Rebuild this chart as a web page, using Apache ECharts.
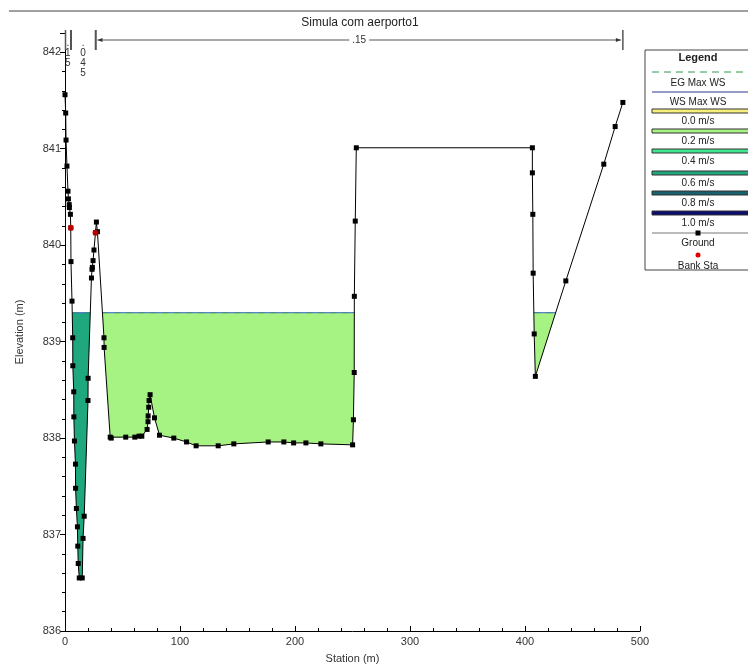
<!DOCTYPE html>
<html>
<head>
<meta charset="utf-8">
<script src="https://cdn.jsdelivr.net/npm/echarts@6/dist/echarts.min.js"></script>
<style>html,body{margin:0;padding:0;background:#fff}#c{width:748px;height:669px}</style>
</head>
<body>
<div id="c"></div>
<script>
// ---- Data ----
const chartTitle = 'Simula com aerporto1';
const xAxisName = 'Station (m)';
const yAxisName = 'Elevation (m)';
const xMin = 0, xMax = 500, xStep = 100;
const yMin = 836, yMax = 842.2, yStep = 1;

// Ground profile (station m, elevation m)
const groundStation = [0, 0.6, 0.9, 1.7, 2.6, 3.0, 3.7, 3.8, 4.7, 5.0, 5.2, 6.1, 6.7, 6.8, 7.6, 7.7, 8.2, 9.1, 9.2, 9.9, 10.8, 11.1, 11.5, 12.4, 15.0, 15.7, 16.7, 20.0, 20.1, 23.0, 23.5, 23.8, 24.4, 25.2, 26.5, 27.3, 28.2, 33.9, 34.0, 39.3, 40.2, 52.8, 60.7, 64.4, 66.8, 71.4, 72.2, 72.3, 72.8, 73.1, 74.0, 77.8, 82.2, 94.6, 105.7, 114.0, 133.2, 146.8, 176.7, 190.3, 198.8, 209.5, 222.5, 250.1, 250.8, 251.5, 251.6, 252.4, 253.3, 406.4, 406.4, 406.8, 407.1, 408.0, 409.0, 435.5, 468.5, 478.4, 485.1];
const groundElevation = [841.56, 841.37, 841.09, 840.82, 840.56, 840.48, 840.42, 840.39, 840.32, 840.18, 839.83, 839.42, 839.04, 838.75, 838.48, 838.22, 837.97, 837.73, 837.48, 837.27, 837.08, 836.88, 836.70, 836.55, 836.55, 836.96, 837.19, 838.39, 838.62, 839.66, 839.75, 839.77, 839.84, 839.95, 840.13, 840.24, 840.14, 839.04, 838.94, 838.01, 838.00, 838.01, 838.01, 838.02, 838.02, 838.09, 838.17, 838.23, 838.32, 838.39, 838.45, 838.21, 838.03, 838.00, 837.96, 837.92, 837.92, 837.94, 837.96, 837.96, 837.95, 837.95, 837.94, 837.93, 838.19, 838.68, 839.47, 840.25, 841.01, 841.01, 840.75, 840.32, 839.71, 839.08, 838.64, 839.63, 840.84, 841.23, 841.48];

const bankStation = [5.0, 26.5];
const bankElevation = [840.18, 840.13];

const wsElevation = 839.30;   // WS Max WS
const egElevation = 839.30;   // EG Max WS

// Manning's n regions
const nBreakStation = [0, 5.0, 26.5, 485.1];
const nValueLabel = ['.15', '.045', '.15'];

// Velocity legend
const velocityLabel = ['0.0 m/s', '0.2 m/s', '0.4 m/s', '0.6 m/s', '0.8 m/s', '1.0 m/s'];
const velocityColor = ['#f6ef7c', '#a6f283', '#3fe68f', '#1fa77d', '#17616d', '#0b0b72'];
const channelVelocityIndex = 3;   // 0.6 m/s band in main channel
const overbankVelocityIndex = 1;  // 0.2 m/s band in overbanks

// ---- Derived: wetted regions below WS ----
function wetRuns() {
  const runs = [];
  let cur = null;
  const n = groundStation.length;
  for (let i = 0; i < n; i++) {
    const s = groundStation[i], e = groundElevation[i];
    if (e < wsElevation) {
      if (!cur) {
        cur = [];
        if (i > 0) {
          const s0 = groundStation[i - 1], e0 = groundElevation[i - 1];
          cur.push([s0 + (wsElevation - e0) / (e - e0) * (s - s0), wsElevation]);
        }
      }
      cur.push([s, e]);
    } else if (cur) {
      const s0 = groundStation[i - 1], e0 = groundElevation[i - 1];
      cur.push([s0 + (wsElevation - e0) / (e - e0) * (s - s0), wsElevation]);
      runs.push(cur);
      cur = null;
    }
  }
  if (cur) runs.push(cur);
  return runs;
}
const runs = wetRuns();

const FONT = '"Liberation Sans", Arial, sans-serif';

const chart = echarts.init(document.getElementById('c'), null, {renderer: 'canvas'});

const legendItems = [];
(function buildLegend() {
  const L = 645, T = 50, W = 120, H = 220, cx = 698, lx0 = 652, lx1 = 760;
  legendItems.push({type: 'rect', shape: {x: L, y: T, width: W, height: H}, style: {fill: '#fff', stroke: '#444', lineWidth: 1}, z: 10});
  legendItems.push({type: 'text', x: cx, y: 58, style: {text: 'Legend', font: 'bold 11px ' + FONT, fill: '#222', align: 'center', verticalAlign: 'middle'}, z: 11});
  legendItems.push({type: 'line', shape: {x1: lx0, y1: 72, x2: lx1, y2: 72}, style: {stroke: '#2e9a4a', lineWidth: 1, lineDash: [7, 5]}, z: 11});
  legendItems.push({type: 'text', x: cx, y: 83, style: {text: 'EG Max WS', font: '10px ' + FONT, fill: '#222', align: 'center', verticalAlign: 'middle'}, z: 11});
  legendItems.push({type: 'line', shape: {x1: lx0, y1: 92, x2: lx1, y2: 92}, style: {stroke: '#2a3a8c', lineWidth: 1}, z: 11});
  legendItems.push({type: 'text', x: cx, y: 102, style: {text: 'WS Max WS', font: '10px ' + FONT, fill: '#222', align: 'center', verticalAlign: 'middle'}, z: 11});
  const barY = [109, 129, 149, 171, 191, 211];
  for (let i = 0; i < velocityLabel.length; i++) {
    legendItems.push({type: 'rect', shape: {x: lx0, y: barY[i], width: lx1 - lx0, height: 4}, style: {fill: velocityColor[i], stroke: '#333', lineWidth: 1}, z: 11});
    legendItems.push({type: 'text', x: cx, y: barY[i] + 12, style: {text: velocityLabel[i], font: '10px ' + FONT, fill: '#222', align: 'center', verticalAlign: 'middle'}, z: 11});
  }
  legendItems.push({type: 'line', shape: {x1: lx0, y1: 233, x2: lx1, y2: 233}, style: {stroke: '#777', lineWidth: 1}, z: 11});
  legendItems.push({type: 'rect', shape: {x: cx - 2.5, y: 230.5, width: 5, height: 5}, style: {fill: '#000'}, z: 12});
  legendItems.push({type: 'text', x: cx, y: 243, style: {text: 'Ground', font: '10px ' + FONT, fill: '#222', align: 'center', verticalAlign: 'middle'}, z: 11});
  legendItems.push({type: 'circle', shape: {cx: cx, cy: 255, r: 2.5}, style: {fill: '#e00000'}, z: 11});
  legendItems.push({type: 'text', x: cx, y: 266, style: {text: 'Bank Sta', font: '10px ' + FONT, fill: '#222', align: 'center', verticalAlign: 'middle'}, z: 11});
})();

const option = {
  animation: false,
  backgroundColor: '#fff',
  textStyle: {fontFamily: FONT},
  grid: {left: 65, right: 108, top: 33, bottom: 36, containLabel: false},
  xAxis: {
    type: 'value', min: xMin, max: xMax, interval: xStep,
    name: xAxisName, nameLocation: 'middle', nameGap: 22,
    nameTextStyle: {fontSize: 11, color: '#333', fontFamily: FONT},
    axisLine: {lineStyle: {color: '#000', width: 1}},
    axisTick: {inside: true, length: 5, lineStyle: {color: '#000'}},
    minorTick: {show: true, splitNumber: 5, length: 3, lineStyle: {color: '#000'}},
    axisLabel: {fontSize: 11, color: '#333', margin: 5, fontFamily: FONT},
    splitLine: {show: false}
  },
  yAxis: {
    type: 'value', min: yMin, max: yMax, interval: yStep,
    name: yAxisName, nameLocation: 'middle', nameGap: 40,
    nameTextStyle: {fontSize: 11, color: '#333', fontFamily: FONT},
    axisLine: {lineStyle: {color: '#000', width: 1}},
    axisTick: {inside: false, length: 5, lineStyle: {color: '#000'}},
    minorTick: {show: true, splitNumber: 5, length: 3, lineStyle: {color: '#000'}},
    axisLabel: {fontSize: 11, color: '#333', margin: 4, fontFamily: FONT,
      formatter: v => (Math.abs(v - Math.round(v)) < 1e-6 ? String(Math.round(v)) : '')},
    splitLine: {show: false}
  },
  graphic: [
    {type: 'line', shape: {x1: 9, y1: 11, x2: 748, y2: 11}, style: {stroke: '#808080', lineWidth: 1.5}},
    {type: 'text', x: 360, y: 23, style: {text: chartTitle, font: '12px ' + FONT, fill: '#222', align: 'center', verticalAlign: 'middle'}}
  ].concat(legendItems),
  series: [
    {
      type: 'custom', name: 'wet', z: 2, silent: true, clip: true,
      data: runs.map(r => [r[0][0], wsElevation]),
      renderItem: function (params, api) {
        const r = runs[params.dataIndex];
        const mid = (r[0][0] + r[r.length - 1][0]) / 2;
        const inChannel = mid > bankStation[0] && mid < bankStation[1];
        const col = velocityColor[inChannel ? channelVelocityIndex : overbankVelocityIndex];
        const pts = r.map(p => api.coord(p));
        const a = api.coord([r[0][0], wsElevation]);
        const b = api.coord([r[r.length - 1][0], wsElevation]);
        const ea = api.coord([r[0][0], egElevation]);
        const eb = api.coord([r[r.length - 1][0], egElevation]);
        return {
          type: 'group', children: [
            {type: 'polygon', shape: {points: pts}, style: {fill: col, stroke: null}},
            {type: 'line', shape: {x1: a[0], y1: a[1], x2: b[0], y2: b[1]}, style: {stroke: '#3a5fcd', lineWidth: 1}},
            {type: 'line', shape: {x1: ea[0], y1: ea[1], x2: eb[0], y2: eb[1]}, style: {stroke: '#2e9a4a', lineWidth: 1, lineDash: [6, 6], opacity: 0.6}}
          ]
        };
      }
    },
    {
      type: 'custom', name: 'manning', z: 3, silent: true, clip: false,
      data: nValueLabel.map((lab, i) => [nBreakStation[i], yMax]),
      renderItem: function (params, api) {
        const i = params.dataIndex;
        const p0 = api.coord([nBreakStation[i], yMax]);
        const p1 = api.coord([nBreakStation[i + 1], yMax]);
        const top = p0[1];
        const children = [];
        const barStyle = {stroke: '#555', lineWidth: 1.5};
        children.push({type: 'line', shape: {x1: p0[0] + 0.5, y1: top - 3, x2: p0[0] + 0.5, y2: top + 17}, style: barStyle});
        children.push({type: 'line', shape: {x1: p1[0], y1: top - 3, x2: p1[0], y2: top + 17}, style: barStyle});
        const w = p1[0] - p0[0];
        const cx = (p0[0] + p1[0]) / 2;
        if (w > 60) {
          const y = top + 7;
          children.push({type: 'line', shape: {x1: p0[0] + 2, y1: y, x2: p1[0] - 2, y2: y}, style: {stroke: '#555', lineWidth: 1}});
          children.push({type: 'polygon', shape: {points: [[p0[0] + 2, y], [p0[0] + 7, y - 2], [p0[0] + 7, y + 2]]}, style: {fill: '#333'}});
          children.push({type: 'polygon', shape: {points: [[p1[0] - 2, y], [p1[0] - 7, y - 2], [p1[0] - 7, y + 2]]}, style: {fill: '#333'}});
          children.push({type: 'text', x: cx, y: y, style: {text: nValueLabel[i], font: '10px ' + FONT, fill: '#333', align: 'center', verticalAlign: 'middle', backgroundColor: '#fff', padding: [0, 3]}});
        } else {
          children.push({type: 'text', x: cx, y: top + 5, style: {text: nValueLabel[i].split('').join('\n'), font: '10px ' + FONT, fill: '#333', align: 'center', verticalAlign: 'top', lineHeight: 10}});
        }
        return {type: 'group', children: children};
      }
    },
    {
      type: 'line', name: 'Ground', z: 4,
      data: groundStation.map((s, i) => [s, groundElevation[i]]),
      symbol: 'rect', symbolSize: 5, showAllSymbol: true,
      itemStyle: {color: '#000'},
      lineStyle: {color: '#000', width: 1},
      silent: true
    },
    {
      type: 'scatter', name: 'Bank Sta', z: 5,
      data: bankStation.map((s, i) => [s, bankElevation[i]]),
      symbol: 'circle', symbolSize: 6,
      itemStyle: {color: '#e00000'},
      silent: true
    }
  ]
};
chart.setOption(option);
</script>
</body>
</html>
